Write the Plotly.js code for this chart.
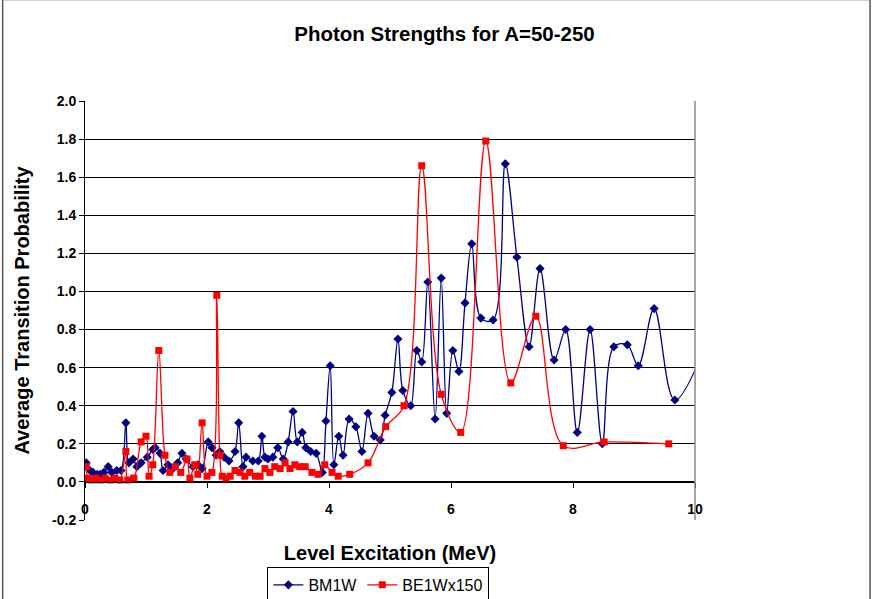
<!DOCTYPE html>
<html>
<head>
<meta charset="utf-8">
<script src="https://cdn.plot.ly/plotly-3.0.1.min.js"></script>
<style>
html,body{margin:0;padding:0;background:#fff;}
#chart{width:875px;height:599px;}
</style>
</head>
<body>
<div id="chart"></div>
<script>
// BM1W series
const bm1wX = [0.02,0.08,0.13,0.20,0.25,0.31,0.38,0.44,0.52,0.59,0.67,0.72,0.79,0.85,0.92,1.02,1.11,1.15,1.23,1.28,1.36,1.44,1.52,1.59,1.66,1.77,1.85,1.92,2.02,2.08,2.15,2.21,2.28,2.36,2.46,2.52,2.59,2.64,2.75,2.84,2.90,2.95,3.00,3.08,3.16,3.25,3.33,3.41,3.48,3.56,3.62,3.70,3.79,3.89,3.95,4.02,4.08,4.16,4.23,4.33,4.44,4.54,4.64,4.74,4.84,4.92,5.03,5.13,5.21,5.34,5.44,5.52,5.62,5.74,5.84,5.93,6.03,6.13,6.23,6.34,6.49,6.69,6.89,7.08,7.28,7.46,7.69,7.88,8.07,8.28,8.48,8.67,8.89,9.07,9.33,9.67,10.33];
const bm1wY = [0.10,0.06,0.05,0.04,0.04,0.05,0.08,0.05,0.06,0.06,0.31,0.10,0.12,0.08,0.10,0.13,0.17,0.18,0.15,0.06,0.09,0.07,0.10,0.15,0.12,0.08,0.09,0.07,0.21,0.18,0.14,0.16,0.13,0.11,0.16,0.31,0.08,0.13,0.11,0.11,0.24,0.13,0.12,0.13,0.18,0.12,0.21,0.37,0.21,0.26,0.18,0.16,0.15,0.05,0.32,0.61,0.09,0.24,0.14,0.33,0.29,0.16,0.36,0.24,0.22,0.35,0.47,0.75,0.48,0.40,0.69,0.63,1.05,0.33,1.07,0.36,0.69,0.58,0.94,1.25,0.86,0.85,1.67,1.18,0.71,1.12,0.64,0.80,0.26,0.80,0.20,0.71,0.72,0.61,0.91,0.43,0.85];
// BE1Wx150 series
const be1wX = [0.02,0.05,0.11,0.18,0.25,0.33,0.41,0.49,0.57,0.67,0.70,0.80,0.92,1.00,1.05,1.11,1.21,1.31,1.39,1.48,1.57,1.67,1.72,1.80,1.85,1.92,2.00,2.08,2.16,2.21,2.25,2.31,2.38,2.46,2.54,2.62,2.70,2.79,2.87,2.95,3.03,3.11,3.20,3.28,3.36,3.44,3.52,3.61,3.72,3.82,3.93,4.05,4.15,4.34,4.64,4.93,5.23,5.52,5.84,6.16,6.57,6.98,7.39,7.84,8.51,9.57];
const be1wY = [0.08,0.02,0.01,0.02,0.01,0.02,0.01,0.02,0.01,0.16,0.01,0.02,0.21,0.24,0.03,0.09,0.69,0.14,0.05,0.08,0.05,0.12,0.02,0.09,0.04,0.31,0.03,0.05,0.98,0.14,0.03,0.02,0.03,0.06,0.05,0.03,0.05,0.03,0.03,0.07,0.05,0.08,0.07,0.10,0.07,0.09,0.08,0.08,0.05,0.04,0.09,0.05,0.03,0.04,0.10,0.29,0.40,1.66,0.46,0.26,1.79,0.52,0.87,0.19,0.21,0.20];
const xTicks = [0,2,4,6,8,10];
const yTicks = [-0.2,0.0,0.2,0.4,0.6,0.8,1.0,1.2,1.4,1.6,1.8,2.0];

const FONT = 'Liberation Sans, Arial, sans-serif';

const traces = [
  {x: bm1wX, y: bm1wY, name: 'BM1W', type: 'scatter', mode: 'lines+markers',
   line: {color: '#000080', width: 1.3, shape: 'spline', smoothing: 1},
   marker: {symbol: 'diamond', size: 7, color: '#000080'}, cliponaxis: true},
  {x: be1wX, y: be1wY, name: 'BE1Wx150', type: 'scatter', mode: 'lines+markers',
   line: {color: '#FF0000', width: 1.3, shape: 'spline', smoothing: 1},
   marker: {symbol: 'square', size: 7, color: '#FF0000'}, cliponaxis: true}
];

const layout = {
  width: 875, height: 599,
  margin: {l: 85, r: 180, t: 101, b: 79, pad: 0, autoexpand: false},
  paper_bgcolor: '#ffffff', plot_bgcolor: '#ffffff',
  showlegend: true,
  font: {family: FONT, color: '#000', size: 14},
  title: {text: '<b>Photon Strengths for A=50-250</b>', font: {family: FONT, size: 20.5, color: '#000'},
          x: 0.508, xanchor: 'center', y: 0.943, yanchor: 'middle'},
  xaxis: {
    range: [0, 10], tickvals: xTicks, ticktext: xTicks.map(v => '<b>' + v + '</b>'),
    anchor: 'free', position: 0.2/2.2,
    showgrid: false, zeroline: false, showline: true, linecolor: '#000', linewidth: 1,
    ticks: 'outside', ticklen: 5, tickcolor: '#000', ticklabelstandoff: 9,
    tickfont: {family: FONT, size: 14, color: '#000'},
    title: {text: '<b>Level Excitation (MeV)</b>', font: {family: FONT, size: 20, color: '#000'}, standoff: 30}
  },
  yaxis: {
    range: [-0.2, 2.0], tickvals: yTicks, ticktext: yTicks.map(v => '<b>' + v.toFixed(1) + '</b>'),
    showgrid: true, gridcolor: '#000', gridwidth: 1, zeroline: false,
    showline: true, linecolor: '#000', linewidth: 1,
    ticks: 'outside', ticklen: 5, tickcolor: '#000', tickfont: {family: FONT, size: 14, color: '#000'},
    title: {text: '<b>Average Transition Probability</b>', font: {family: FONT, size: 20, color: '#000'}, standoff: 17}
  },
  legend: {orientation: 'h', x: 0.481, xanchor: 'center', y: -0.112, yanchor: 'top',
           bordercolor: '#000', borderwidth: 1, bgcolor: '#fff',
           font: {family: FONT, size: 16, color: '#000'}, itemwidth: 30, tracegroupgap: 0},
  shapes: [
    {type: 'line', xref: 'paper', yref: 'paper', x0: 1, x1: 1, y0: 0, y1: 1, line: {color: '#888', width: 1.5}},
    {type: 'path', xref: 'paper', yref: 'paper',
     path: 'M -0.135 -0.2 L -0.135 1.242 L 1.287 1.242 L 1.287 -0.2', line: {color: '#555', width: 1.5}}
  ]
};

Plotly.newPlot('chart', traces, layout, {displayModeBar: false, staticPlot: true});
</script>
</body>
</html>
